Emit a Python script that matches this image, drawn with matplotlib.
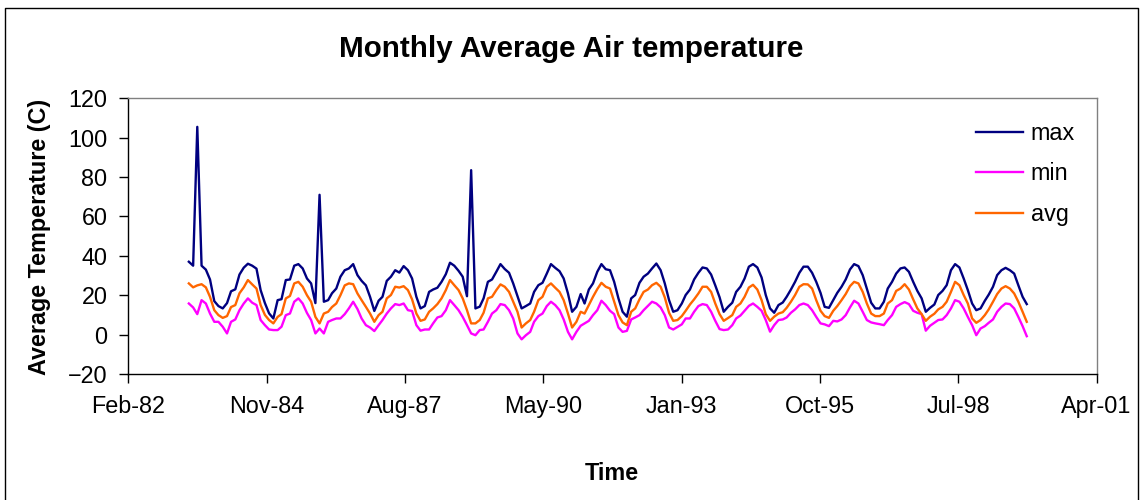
import datetime as dt
import numpy as np
import pandas as pd
import matplotlib
matplotlib.use("Agg")
import matplotlib.pyplot as plt
import matplotlib.dates as mdates
from matplotlib.lines import Line2D

plt.rcParams['font.family'] = ['Liberation Sans', 'DejaVu Sans']

# monthly values, May 1983 .. Dec 1999
first_month = '1983-05-01'

max_temp = [
    37, 35, 105.5, 35, 33, 28, 17, 14.5, 13.3, 16, 22, 23,
    30.5, 34, 36, 35, 33.5, 22.6, 16, 10.8, 8.2, 17.5, 18, 27.7,
    28, 35, 35.8, 33.6, 28.5, 26, 16, 71, 16.7, 17.5, 21, 23.4,
    29.4, 32.7, 33.6, 35.8,
    30.2, 27.3, 25, 19.2, 12, 17.2, 19.2, 27.3, 29.4, 32.7, 31.5, 34.8,
    32.7, 28.5, 19.2, 13.3, 14.5, 21.7, 22.9, 23.8, 26.8, 30.7, 36.5, 35,
    32.4, 29.4, 19.5, 83.5, 13.3, 14.2, 18.4, 26.8, 28, 31.9, 35.8, 33.3,
    31.4, 26, 19.5, 13.3, 14.5, 15.8, 21.7,
    25.1, 26.3, 31, 35.8, 33.9, 32.2, 28.5, 20.9, 11.6, 14.1, 20.6, 15.8,
    22.9, 26, 31.9, 35.8, 33.2, 32.7, 26.8, 18.4, 11.6, 9.1, 18.4, 20.1,
    26.3, 29.4, 31, 33.6, 36.1, 32.7, 26, 17.5, 11.6, 12.4, 15.8, 20.1,
    22.9, 28, 31.4, 34.1, 33.6, 30.5,
    25, 19, 11.6, 14.1, 16.2, 21.7, 24.3, 28.5, 34.5, 35.8, 34.1, 29,
    20.1, 13.3, 11.1, 15, 16.3, 19.2, 22.9, 26.8, 31.4, 34.5, 34.5, 31.4,
    26.8, 21.2, 14.1, 13.6, 17.5, 21.2, 24.3, 28, 33.1, 35.8, 34.8, 30.2,
    23.4, 16.2, 13.3, 13.3, 16.7, 23.4,
    26.8, 31, 33.6, 34.1, 31.9, 26.8, 22.2, 18.4, 11.6, 13.6, 15.3, 20.1,
    22.2, 25.1, 32.7, 35.8, 34.1, 28.5, 22.6, 15.8, 12.4, 13.3, 17.2, 20.3,
    24.3, 30.2, 32.7, 33.9, 32.7, 31, 25.1, 19.2, 15.5,
]

min_temp = [
    15.8, 13.8, 10.4, 17.5, 15.8, 10.7, 6.5, 6.5, 4, 0.6, 6.5, 7.7,
    12.4, 15.8, 18.4, 16.2, 15, 7.4, 4.8, 2.6, 2.3, 2.3, 4, 9.9,
    10.7, 16.7, 18.4, 15.8, 11, 7.4, 0.6, 3.1, 0.6, 6.5, 7.4, 8.2,
    8.2, 10.4, 13.3, 16.7,
    13, 8.2, 4.8, 3.6, 1.8, 4.8, 7.4, 10.7, 13.3, 15.5, 15, 15.8,
    12.4, 12, 4.8, 2, 2.6, 2.6, 5.7, 8.7, 9.4, 12.4, 17.5, 15,
    12.4, 9, 4.8, 0.6, -0.3, 2.3, 2.6, 6.5, 10.7, 12.4, 15.5, 15,
    12.4, 8.2, 0.6, -2.4, -0.3, 1.4, 6.5,
    9.4, 10.7, 14.5, 16.7, 15, 12.4, 7.7, 1.4, -2.4, 1.4, 4.5, 5.7,
    7, 9.9, 12.4, 17.2, 15, 12.1, 10.4, 3.6, 1.4, 1.9, 7.7, 8.7,
    9.9, 12.4, 14.6, 16.7, 15.8, 13.8, 9.9, 3.6, 2.6, 3.9, 5.2, 8.2,
    8.2, 11.6, 14.5, 15.5, 15, 11.6,
    7, 2.8, 2.3, 2.6, 4.8, 8.2, 9.7, 12.1, 14.6, 15.8, 14.1, 12.1,
    7.4, 1.5, 4.8, 7.4, 7.7, 8.7, 11.1, 12.8, 15, 15.8, 15, 12.4,
    9, 5.7, 5.2, 4.3, 7, 6.7, 7.7, 9.9, 13.8, 17.2, 15.8, 11.6,
    7.4, 6.2, 5.7, 5.3, 4.8, 7.4,
    9.9, 14.1, 15.5, 16.5, 15.5, 12.1, 11.1, 10.4, 2, 4.5, 6, 7.4,
    7.7, 9.9, 13.3, 17.5, 16.7, 13.3, 9, 4.8, -0.3, 3.1, 4.3, 6,
    7.7, 11.6, 14.1, 15.8, 15.5, 13.3, 9, 4.3, -0.8,
]

avg_temp = [
    26, 24, 25, 25.6, 24, 19.2, 12.4, 9.9, 8.5, 9.4, 14, 15,
    21, 24, 27.7, 25.5, 23.4, 15, 10, 7.4, 5.7, 9, 10.4, 18.4,
    19.6, 26, 26.8, 24.3, 20, 16.7, 9, 5.7, 10.7, 11.6, 14, 15.8,
    20, 25, 26, 25.6,
    20.9, 17.5, 14.1, 10.7, 6.5, 9.9, 11.6, 18.4, 20.1, 24.3, 23.9, 24.6,
    22.6, 17.9, 10.7, 7, 7.7, 11.6, 13.3, 15.5, 18.4, 22.6, 27.7, 25.1,
    22.6, 18.4, 12.4, 5.7, 5.7, 7.4, 11.1, 18.4, 19.2, 22.6, 25.5, 24.3,
    21.7, 16.7, 11.6, 3.6, 5.7, 7.4, 11.6,
    17.5, 19.2, 24.3, 26, 23.8, 21.7, 17.5, 10.7, 3.6, 6.5, 11.6, 10.7,
    15, 19.2, 23.1, 26.3, 24.3, 23.4, 16.7, 9.9, 6.2, 4.8, 11.6, 13.3,
    17.9, 21.7, 22.9, 25.1, 26.3, 24.3, 18.9, 11.1, 7, 7.4, 9.4, 12.1,
    15.3, 17.9, 20.9, 24.3, 24.3, 21.7,
    15.8, 10.4, 7, 8.4, 9.9, 14.1, 15.8, 19.2, 23.9, 25.3, 22.9, 17.5,
    10.4, 7, 9.1, 10.7, 11.4, 13.6, 16.7, 20.1, 24.3, 25.6, 25.5, 23.4,
    17.5, 12.1, 9.4, 8.5, 12.1, 14.5, 17.5, 20.6, 24.6, 26.8, 26, 21.7,
    15.8, 10.7, 9.4, 9.4, 10.7, 15.8,
    17.5, 22.2, 23.4, 25.6, 22.9, 17.9, 13.3, 10.4, 7, 9.1, 10.6, 12.8,
    14.1, 16.7, 21.7, 26.8, 25.1, 20.1, 15.8, 8.2, 6, 7.4, 9.9, 12.8,
    16.7, 20.6, 23.4, 24.6, 23.4, 20.9, 16.7, 11.6, 6.5,
]

# excel-style date axis: serial 30000 .. 37000 every 1000 days
tick_serials = [30000, 31000, 32000, 33000, 34000, 35000, 36000, 37000]
yticks = [-20, 0, 20, 40, 60, 80, 100, 120]

W, H = 1143, 500
fig = plt.figure(figsize=(W / 100, H / 100), dpi=100)
ax = fig.add_axes([128.4 / W, 1 - 374 / H, (1096.6 - 128.4) / W, (374 - 98.3) / H])

months = pd.date_range(first_month, periods=len(max_temp), freq='MS')
ax.plot(months, max_temp, color='#000080', lw=1.7, label='max')
ax.plot(months, min_temp, color='#FF00FF', lw=1.7, label='min')
ax.plot(months, avg_temp, color='#FF6600', lw=1.7, label='avg')

epoch = dt.datetime(1899, 12, 30)
tick_dates = [epoch + dt.timedelta(days=s) for s in tick_serials]
ax.set_xlim(tick_dates[0], tick_dates[-1])
ax.set_xticks(tick_dates)
ax.xaxis.set_major_formatter(mdates.DateFormatter('%b-%y'))
ax.set_ylim(-20, 120)
ax.set_yticks(yticks)

fs = 16.8
ax.tick_params(axis='both', labelsize=fs, direction='out', color='black', width=1)
ax.tick_params(axis='x', length=6.2, pad=9)
ax.tick_params(axis='y', length=6.5, pad=8.5)

for side in ['top', 'right']:
    ax.spines[side].set_color('#808080')
for side in ['left', 'bottom']:
    ax.spines[side].set_color('black')
for sp in ax.spines.values():
    sp.set_linewidth(1)

leg = ax.legend(loc='upper left', bbox_to_anchor=(976 / W, 1 - 122 / H),
                bbox_transform=fig.transFigure, frameon=False, fontsize=fs,
                handlelength=2.0, handletextpad=0.35, labelspacing=0.75,
                borderpad=0, borderaxespad=0)

fig.text(571 / W, 1 - 57 / H, 'Monthly Average Air temperature', ha='center',
         va='baseline', fontsize=21.3, fontweight='bold')
fig.text(612 / W, 1 - 480 / H, 'Time', ha='center', va='baseline',
         fontsize=fs, fontweight='bold')
fig.text(40 / W, 1 - 237 / H, 'Average Temperature (C)', ha='center', va='center',
         rotation=90, fontsize=fs, fontweight='bold')

# chart area border
fig.add_artist(Line2D([4.5 / W, 4.5 / W, 1137.5 / W, 1137.5 / W],
                      [0, 1 - 7.5 / H, 1 - 7.5 / H, 0],
                      transform=fig.transFigure, color='black', lw=1))

fig.savefig('out.png', dpi=100)
